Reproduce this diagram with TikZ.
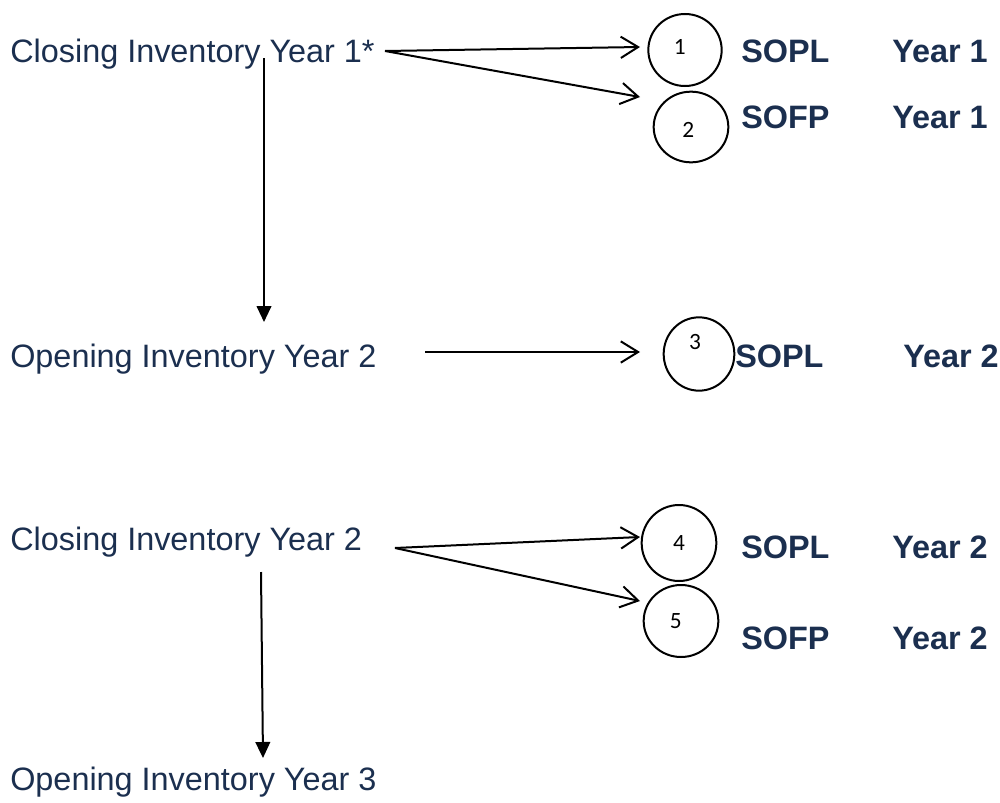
\documentclass[tikz,border=0pt]{standalone}
\usepackage{fontspec}
\setmainfont{Liberation Sans}
\newfontfamily\numfont{Carlito}
\usetikzlibrary{arrows.meta,calc,shapes.geometric}
\definecolor{navy}{HTML}{1B2F4F}
\tikzset{
  item/.style={anchor=base west, inner sep=0pt, text=navy, font=\fontsize{24.3}{28}\selectfont},
  stmt/.style={anchor=base west, inner sep=0pt, text=navy, font=\fontsize{24.3}{28}\selectfont\bfseries},
  ring/.style={draw=black, line width=1.5pt, ellipse, inner sep=0pt, minimum width=55pt, minimum height=54pt},
  num/.style={font=\numfont\fontsize{17.5}{20}\selectfont, inner sep=0pt},
  flow/.style={draw=black, line width=1.5pt, -{Straight Barb[length=13pt,width=16pt,line width=1.5pt]}},
  carry/.style={draw=black, line width=1.5pt, -{Triangle[length=12pt,width=11pt]}}
}
\begin{document}
\begin{tikzpicture}[x=0.75pt,y=-0.75pt]
\useasboundingbox (0,0) rectangle (1000,803);

% inventory figures
\node[item] (ci1) at (10,62) {Closing Inventory Year 1*};
\node[item] (oi2) at (10,367) {Opening Inventory Year 2};
\node[item] (ci2) at (10,550) {Closing Inventory Year 2};
\node[item] (oi3) at (10,790) {Opening Inventory Year 3};

% numbered markers
\node[ring, label={[num, xshift=-4pt, yshift=2pt]center:1}] (r1) at (685,50) {};
\node[ring, minimum width=56pt, minimum height=53pt, label={[num, xshift=-2pt, yshift=-2pt]center:2}] (r2) at (691,127) {};
\node[ring, minimum width=53pt, minimum height=55pt, label={[num, yshift=9pt, xshift=-3pt]center:3}] (r3) at (699,354) {};
\node[ring, minimum width=56pt, minimum height=57pt, label={[num]center:4}] (r4) at (679,543) {};
\node[ring, minimum width=56pt, minimum height=54pt, label={[num, xshift=-4pt]center:5}] (r5) at (681,621) {};

% statements
\node[stmt] (s1) at (741,62) {SOPL};
\node[stmt] (y1) at (892,62) {Year 1};
\node[stmt] (s2) at (741,128) {SOFP};
\node[stmt] (y2) at (892,128) {Year 1};
\node[stmt] (s3) at (735,367) {SOPL};
\node[stmt] (y3) at (903,367) {Year 2};
\node[stmt] (s4) at (741,558) {SOPL};
\node[stmt] (y4) at (892,558) {Year 2};
\node[stmt] (s5) at (741,649) {SOFP};
\node[stmt] (y5) at (892,649) {Year 2};

% connector ends
\coordinate (a1) at (385,51);
\coordinate (a2) at (425,352);
\coordinate (a3) at (395,548);
\coordinate (v1s) at (264,58);
\coordinate (v1e) at (264,322);
\coordinate (v2s) at (261,572);
\coordinate (v2e) at (263,758);

% year-end flows
\draw[flow] (a1) -- ($(r1.center)+(-45,-3)$);
\draw[flow] (a1) -- ($(r2.center)+(-51,-30)$);
\draw[flow] (a2) -- ($(r3.center)+(-59,-2)$);
\draw[flow] (a3) -- ($(r4.center)+(-39,-6)$);
\draw[flow] (a3) -- ($(r5.center)+(-41,-20)$);

% carried forward
\draw[carry] (v1s) -- (v1e);
\draw[carry] (v2s) -- (v2e);
\end{tikzpicture}
\end{document}
